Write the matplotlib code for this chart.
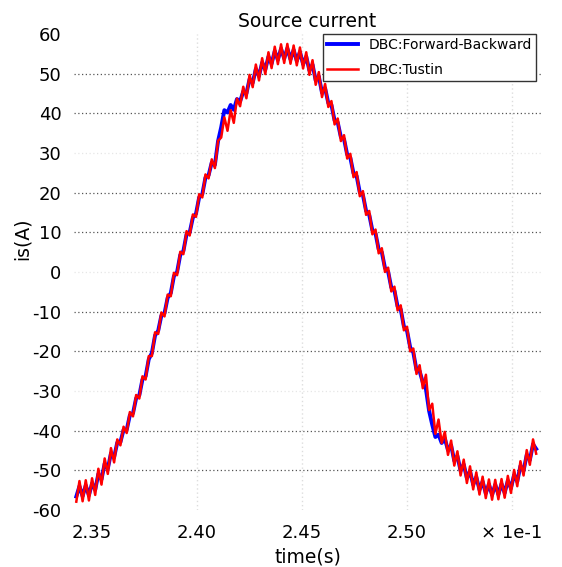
import numpy as np
import matplotlib
matplotlib.use("Agg")
import matplotlib.pyplot as plt

plt.rcParams["axes.unicode_minus"] = False

# time axis in units of 1e-1 s, one sample every 0.0015
t_start, t_end = 2.3425, 2.5615

# DBC: Forward-Backward (blue)
is_fb = [
    -56.6, -54.0, -56.5, -53.8, -56.3, -53.3, -54.9, -50.9, -52.3, -48.3,
    -49.6, -45.7, -46.7, -43.0, -42.9, -39.8, -39.8, -36.1, -35.6, -31.8,
    -31.1, -27.1, -26.3, -22.0, -20.4, -16.0, -14.8, -11.0, -10.4, -6.5,
    -5.3, -1.0, 0.0, 4.3, 5.3, 9.5, 10.0, 13.7, 14.7, 18.8,
    19.6, 23.8, 24.4, 27.6, 27.0, 33.0, 36.5, 40.8, 40.2, 42.1,
    40.9, 43.6, 43.0, 45.5, 45.0, 48.6, 47.7, 51.2, 49.4, 52.8,
    51.0, 54.3, 52.5, 55.7, 53.5, 56.3, 53.8, 56.4, 53.6, 56.0,
    53.2, 55.5, 52.4, 54.3, 50.8, 52.3, 48.3, 49.3, 45.2, 46.3,
    42.6, 42.1, 38.2, 37.7, 34.0, 33.5, 29.6, 28.8, 24.9, 24.2,
    20.1, 19.4, 15.4, 14.4, 10.5, 9.7, 5.7, 5.0, 1.0, 0.1,
    -3.9, -4.7, -8.7, -9.4, -13.7, -14.8, -19.0, -20.3, -24.7, -25.0,
    -27.8, -29.5, -35.0, -38.5, -41.6, -41.0, -43.1, -42.0, -44.9, -43.7,
    -47.6, -46.4, -50.1, -48.5, -52.0, -50.2, -53.6, -51.7, -54.9, -52.8,
    -55.8, -53.5, -56.2, -53.6, -56.1, -53.4, -55.7, -52.6, -54.5, -51.1,
    -52.8, -48.9, -50.1, -46.1, -47.4, -43.4, -44.6,
]

# DBC: Tustin (red)
is_tu = [
    -57.9, -52.7, -57.8, -52.5, -57.6, -52.0, -56.2, -49.6, -53.6, -47.0,
    -50.9, -44.4, -48.0, -42.2, -43.7, -39.0, -40.6, -35.3, -36.4, -31.0,
    -31.9, -26.3, -27.1, -21.2, -21.2, -15.2, -15.6, -10.2, -11.2, -5.7,
    -6.1, -0.2, -0.8, 5.1, 4.5, 10.3, 9.2, 14.5, 13.9, 19.6,
    18.8, 24.6, 23.6, 28.4, 26.2, 33.1, 33.9, 39.0, 35.6, 40.8,
    37.6, 43.7, 41.8, 46.7, 43.8, 49.7, 46.6, 52.3, 48.3, 53.9,
    49.9, 55.4, 51.4, 56.8, 52.4, 57.4, 52.7, 57.5, 52.5, 57.1,
    52.1, 56.6, 51.3, 55.4, 49.7, 53.4, 47.2, 50.4, 44.1, 47.4,
    41.6, 43.1, 37.2, 38.7, 33.0, 34.5, 28.6, 29.8, 23.9, 25.2,
    19.1, 20.4, 14.4, 15.4, 9.5, 10.7, 4.7, 6.0, 0.0, 1.1,
    -4.9, -3.7, -9.7, -8.4, -14.7, -13.8, -20.0, -19.3, -25.7, -23.5,
    -29.3, -25.9, -34.8, -33.2, -40.8, -37.2, -43.1, -40.3, -46.1, -42.5,
    -48.8, -45.2, -51.3, -47.3, -53.2, -49.0, -54.8, -50.5, -56.1, -51.6,
    -57.0, -52.3, -57.4, -52.4, -57.3, -52.2, -56.9, -51.4, -55.7, -49.9,
    -54.0, -47.7, -51.3, -44.9, -48.6, -42.2, -45.8,
]

xticks = [2.35, 2.40, 2.45, 2.50, 2.55]
xtick_labels = ["2.35", "2.40", "2.45", "2.50", "\u00d7 1e-1"]
yticks = list(range(-60, 61, 10))
dark_grid = [50, 40, 20, 10, -10, -20, -40, -50]

t = np.linspace(t_start, t_end, len(is_fb))

fig = plt.figure(figsize=(5.62, 5.67), dpi=100)
ax = fig.add_axes([74 / 562, 57 / 567, 467 / 562, 476 / 567])

ax.plot(t, is_fb, color="#0000ff", lw=2.8, label="DBC:Forward-Backward")
ax.plot(t, is_tu, color="#ff0000", lw=1.8, label="DBC:Tustin")

ax.set_xlim(2.3414, 2.5638)
ax.set_ylim(-60, 60)
ax.set_xticks(xticks)
ax.set_xticklabels(xtick_labels)
ax.set_yticks(yticks)
ax.tick_params(length=0, labelsize=13)
ax.tick_params(axis="y", pad=9)
ax.tick_params(axis="x", pad=10)

for s in ax.spines.values():
    s.set_visible(False)

# grid: dark dotted lines on some y values, faint elsewhere
for y in yticks:
    if y in dark_grid:
        ax.axhline(y, color="#555555", lw=0.9, ls=(0, (1, 2)), zorder=0)
    elif -60 < y < 60:
        ax.axhline(y, color="#e6e6e6", lw=0.9, ls=(0, (1, 2)), zorder=0)
for x in xticks[1:]:
    ax.axvline(x, color="#dddddd", lw=1.0, ls=(0, (1, 2)), zorder=0)

ax.set_title("Source current", fontsize=13.5, pad=5)
ax.set_xlabel("time(s)", fontsize=13.5, labelpad=4)
ax.set_ylabel("is(A)", fontsize=13.5)
ax.yaxis.set_label_coords(-0.09, 0.57)

leg = ax.legend(loc="upper right", bbox_to_anchor=(0.99, 1.0), borderaxespad=0,
                fontsize=10, fancybox=False, framealpha=1, handlelength=2.2,
                borderpad=0.3, labelspacing=0.75)
leg.get_frame().set_edgecolor("#333333")
leg.get_frame().set_linewidth(1.0)

fig.savefig("out.png", dpi=100)
